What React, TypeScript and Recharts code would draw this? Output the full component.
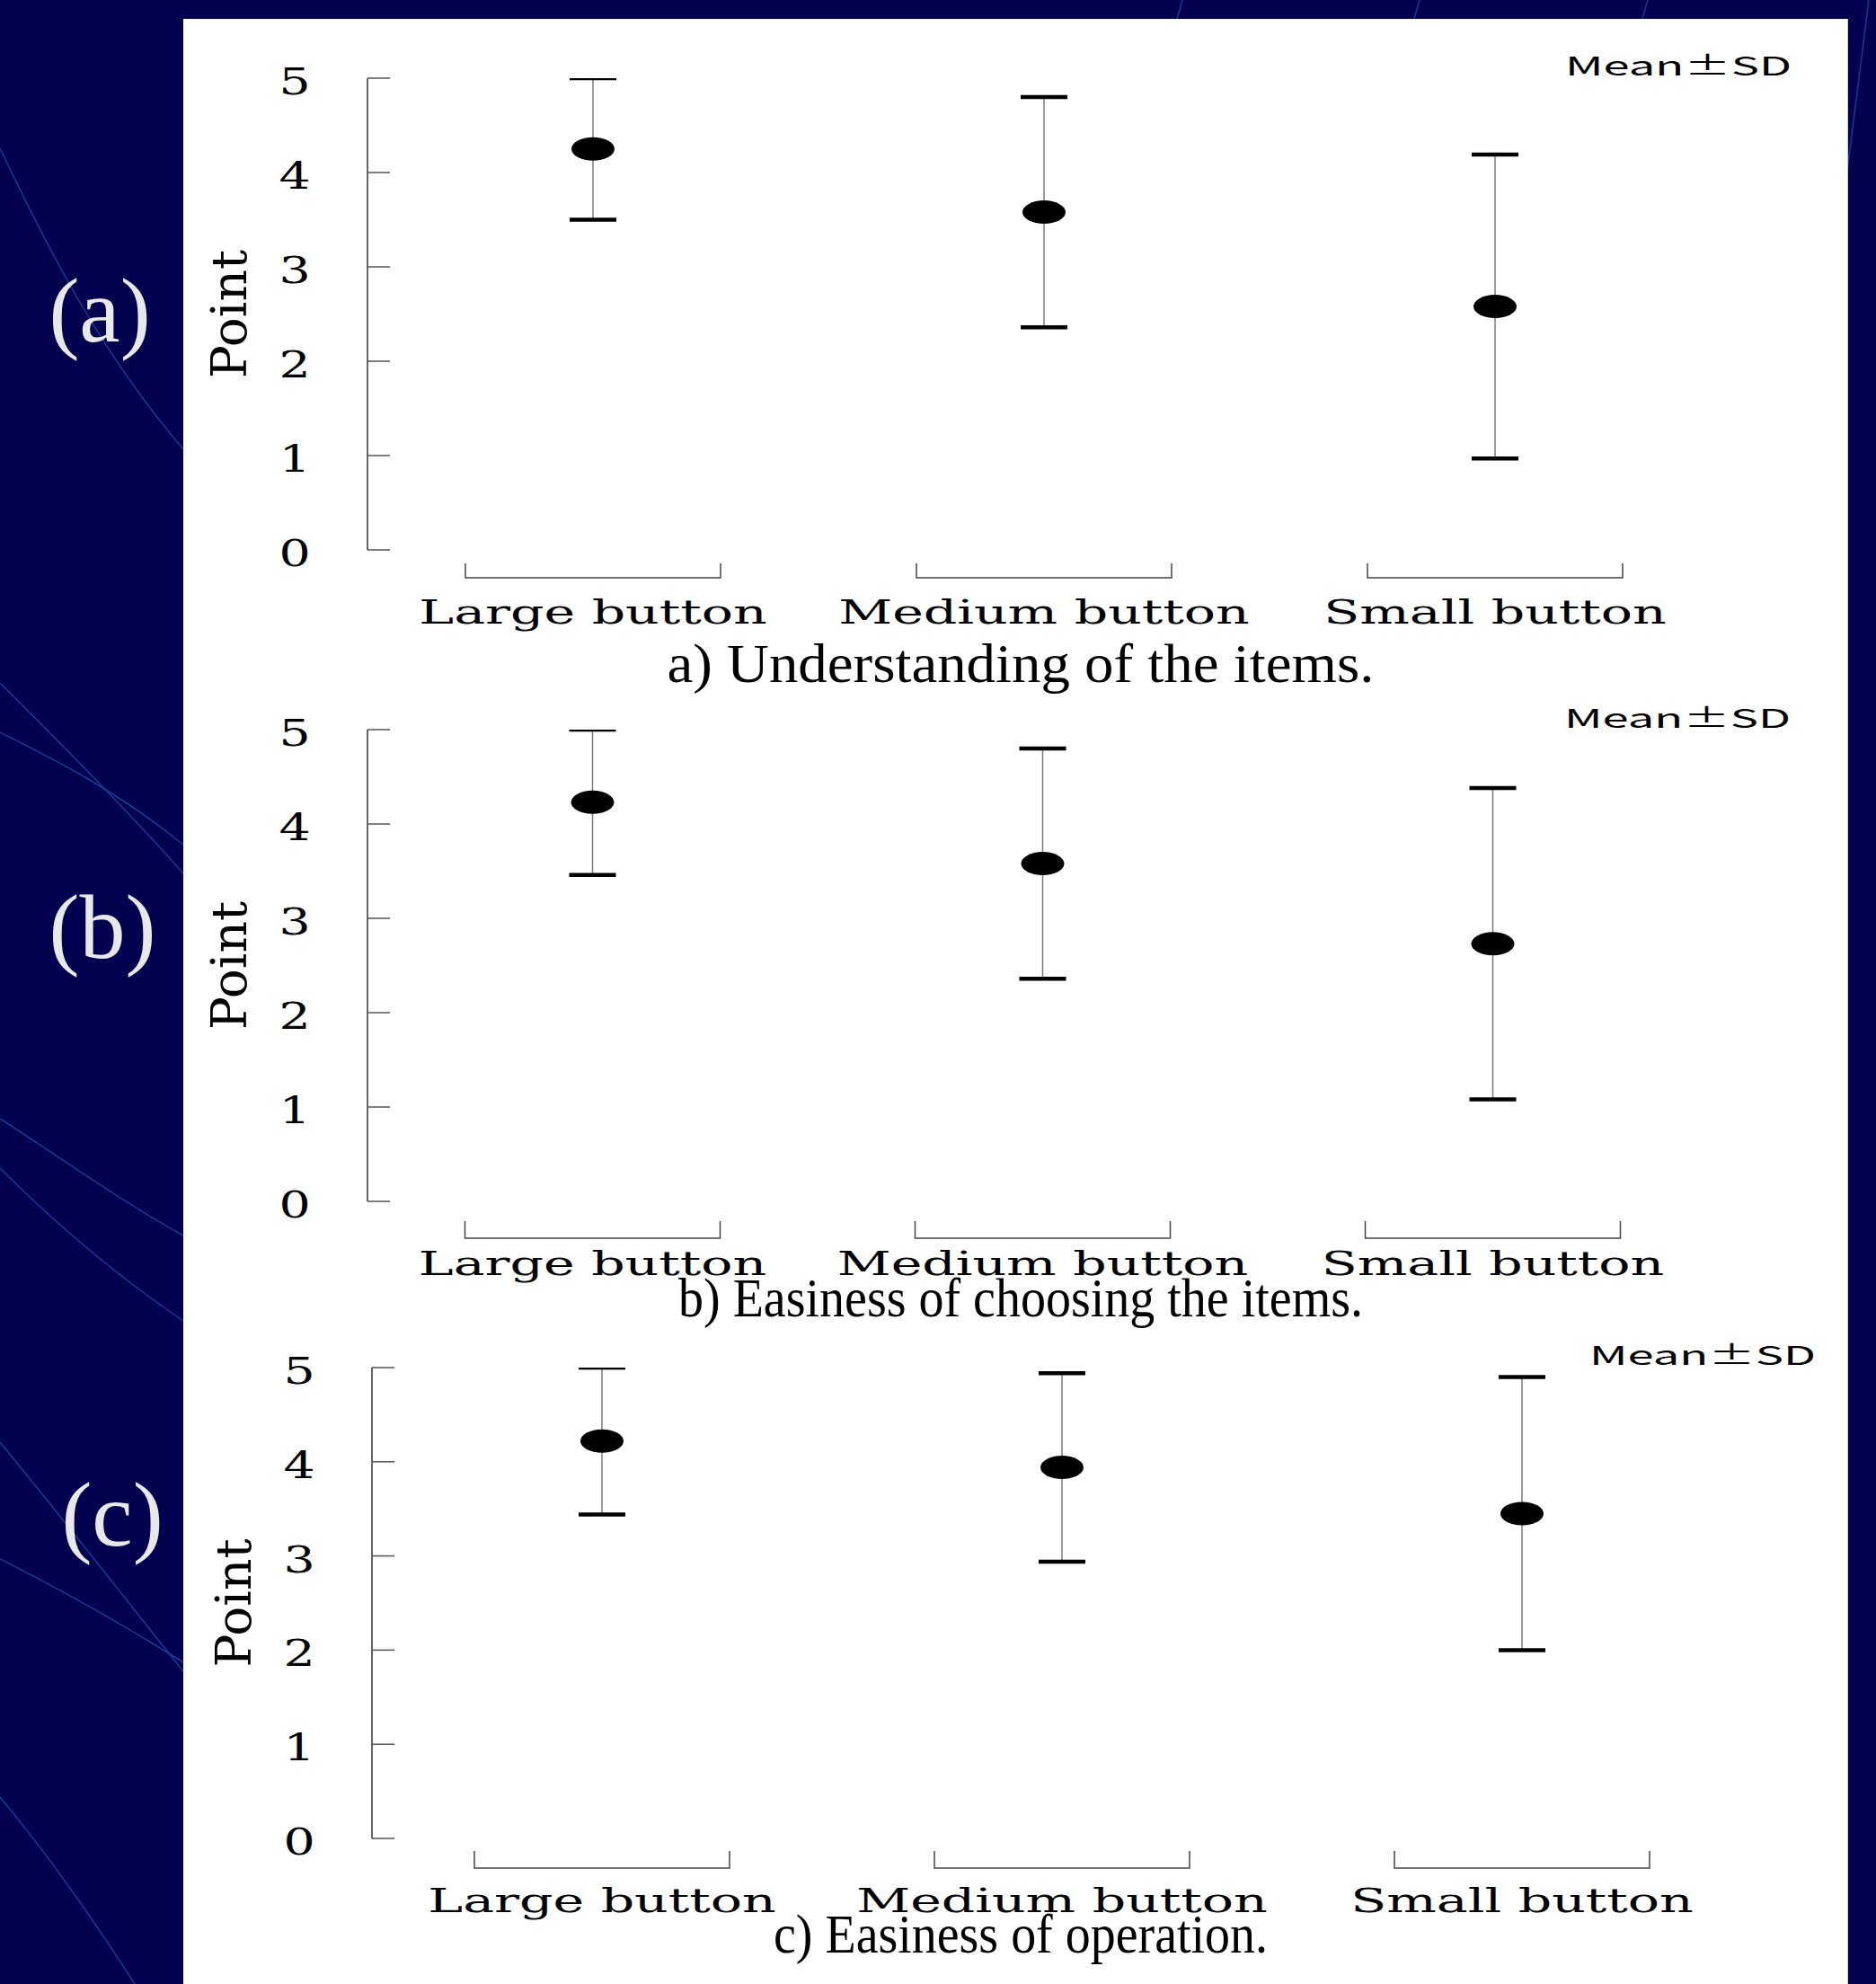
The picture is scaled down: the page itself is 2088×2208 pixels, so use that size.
import React from 'react';
import { ComposedChart, Scatter, XAxis, YAxis, ErrorBar } from 'recharts';

// ---- data ----
const categories = ['Large button', 'Medium button', 'Small button'];
const meansA = [4.25, 3.58, 2.58];
const sdA = [0.75, 1.22, 1.61];
const meansB = [4.23, 3.58, 2.73];
const sdB = [0.77, 1.22, 1.65];
const meansC = [4.22, 3.94, 3.45];
const sdC = [0.78, 1.0, 1.45];
const yTicks = [0, 1, 2, 3, 4, 5];
const captions = [
  'a) Understanding of the items.',
  'b) Easiness of choosing the items.',
  'c) Easiness of operation.',
];
const panelLabels = ['(a)', '(b)', '(c)'];
const legendText = 'Mean±SD';
const yLabel = 'Point';

const build = (means: number[], sds: number[]) =>
  categories.map((name, i) => ({
    name,
    mean: means[i],
    sd: sds[i],
    hi: means[i] + sds[i],
    lo: means[i] - sds[i],
  }));

const datasets = [build(meansA, sdA), build(meansB, sdB), build(meansC, sdC)];

// ---- layout / style ----
const layouts = [
  { plotTop: 87, plotBottom: 612, plotLeft: 409, plotRight: 1915, bt: 15, bb: 31, capY: 759, capLen: 787, labX: 111, labY: 380, legX: 1742, legY: 84 },
  { plotTop: 812, plotBottom: 1337, plotLeft: 409, plotRight: 1912, bt: 22, bb: 41, capY: 1465, capLen: 762, labX: 114, labY: 1066, legX: 1741, legY: 810 },
  { plotTop: 1522, plotBottom: 2046, plotLeft: 414, plotRight: 1950, bt: 14, bb: 33, capY: 2173, capLen: 550, labX: 125, labY: 1720, legX: 1769, legY: 1519 },
];

const decoPaths = [
  'M0,165 C50,270 110,390 204,500',
  'M0,760 C70,830 140,900 204,972',
  'M0,815 C60,845 130,880 204,940',
  'M0,1245 C70,1290 140,1340 204,1375',
  'M0,1300 C60,1360 130,1420 204,1470',
  'M0,1605 C70,1690 140,1780 204,1860',
  'M0,1735 C70,1770 140,1810 204,1850',
  'M0,2000 C50,2060 100,2130 150,2208',
  'M1316,0 L1310,21',
  'M1580,0 L1574,21',
  'M1834,0 L1828,21',
  'M2080,0 L2056,190',
];

const SERIF = 'DejaVu Serif';

const XTick = (props: any) => {
  const { x, y, payload, bt, bb } = props;
  if (x == null || y == null) return null;
  const half = 142;
  return (
    <g>
      <path
        d={`M${x - half},${y + bt} V${y + bb} H${x + half} V${y + bt}`}
        stroke="#444"
        strokeWidth={1.5}
        fill="none"
      />
      <text
        x={0}
        y={0}
        transform={`translate(${x},${y + 82}) scale(1.54,1)`}
        textAnchor="middle"
        fontFamily={SERIF}
        fontSize={38}
        fill="#000"
      >
        {payload.value}
      </text>
    </g>
  );
};

const YTick = (props: any) => {
  const { x, y, payload } = props;
  if (x == null || y == null) return null;
  return (
    <text
      x={0}
      y={0}
      transform={`translate(${x},${y + 18}) scale(1.35,1)`}
      textAnchor="middle"
      fontFamily={SERIF}
      fontSize={41}
      fill="#000"
    >
      {payload.value}
    </text>
  );
};

const dotShape = (props: any) => {
  const { cx, cy } = props;
  if (cx == null || cy == null) return <g />;
  return <ellipse cx={cx} cy={cy} rx={24} ry={13} fill="#000" />;
};

const capShape = (props: any) => {
  const { cx, cy } = props;
  if (cx == null || cy == null) return <g />;
  return <line x1={cx - 26} x2={cx + 26} y1={cy} y2={cy} stroke="#000" strokeWidth={4.5} />;
};

function Panel({ data, L }: { data: any[]; L: any }) {
  const padTop = 50;
  const xH = 110;
  const padBottom = 20;
  const yW = 310;
  const top = L.plotTop - padTop;
  const height = L.plotBottom - L.plotTop + padTop + xH + padBottom;
  const catPad = (L.plotRight - L.plotLeft) / 6;
  return (
    <div style={{ position: 'absolute', left: 0, top, width: 2088, height }}>
      <ComposedChart
        width={2088}
        height={height}
        data={data}
        margin={{ top: padTop, right: 2088 - L.plotRight, bottom: padBottom, left: L.plotLeft - yW }}
      >
        <XAxis
          dataKey="name"
          type="category"
          axisLine={false}
          tickLine={false}
          tickSize={0}
          tickMargin={0}
          height={xH}
          interval={0}
          padding={{ left: catPad, right: catPad }}
          tick={(p: any) => <XTick {...p} bt={L.bt} bb={L.bb} />}
        />
        <YAxis
          type="number"
          domain={[0, 5]}
          ticks={yTicks}
          allowDataOverflow
          width={yW}
          interval={0}
          axisLine={{ stroke: '#333', strokeWidth: 1.5 }}
          tickLine={{ stroke: '#555', strokeWidth: 1.5 }}
          tickSize={-25}
          tickMargin={106}
          tick={(p: any) => <YTick {...p} />}
          label={{
            value: yLabel,
            angle: -90,
            position: 'center',
            fontFamily: SERIF,
            fontSize: 55,
            fill: '#000',
          }}
        />
        <Scatter dataKey="hi" shape={capShape} isAnimationActive={false} />
        <Scatter dataKey="lo" shape={capShape} isAnimationActive={false} />
        <Scatter dataKey="mean" shape={dotShape} isAnimationActive={false}>
          <ErrorBar dataKey="sd" direction="y" width={0} stroke="#7a7a7a" strokeWidth={1.5} isAnimationActive={false} />
        </Scatter>
      </ComposedChart>
    </div>
  );
}

export default function App() {
  return (
    <div
      style={{
        position: 'absolute',
        left: 0,
        top: 0,
        width: 2088,
        height: 2208,
        background: '#01014f',
        overflow: 'hidden',
      }}
    >
      <svg width={2088} height={2208} style={{ position: 'absolute', left: 0, top: 0 }}>
        {decoPaths.map((d, i) => (
          <path key={i} d={d} stroke="#1b45a0" strokeWidth={1.5} fill="none" opacity={0.85} />
        ))}
      </svg>
      <div
        style={{
          position: 'absolute',
          left: 204,
          top: 21,
          width: 1852,
          height: 2187,
          background: '#ffffff',
          boxShadow: '1px 0 0 #c8c8d0',
        }}
      />
      {layouts.map((L, i) => (
        <Panel key={i} data={datasets[i]} L={L} />
      ))}
      <svg width={2088} height={2208} style={{ position: 'absolute', left: 0, top: 0, pointerEvents: 'none' }}>
        {layouts.map((L, i) => (
          <g key={i}>
            <text
              x={L.labX}
              y={L.labY}
              textAnchor="middle"
              fontFamily="Liberation Serif"
              fontSize={102}
              fill="#e8e8e8"
            >
              {panelLabels[i]}
            </text>
            <text
              x={1136}
              y={L.capY}
              textAnchor="middle"
              fontFamily="Liberation Serif"
              fontSize={62}
              fill="#000"
              textLength={L.capLen}
              lengthAdjust="spacingAndGlyphs"
            >
              {captions[i]}
            </text>
            <text
              x={L.legX}
              y={L.legY}
              fontFamily="Noto Sans CJK JP"
              fontSize={29}
              fill="#000"
              textLength={252}
              lengthAdjust="spacingAndGlyphs"
            >
              {legendText}
            </text>
          </g>
        ))}
      </svg>
    </div>
  );
}
